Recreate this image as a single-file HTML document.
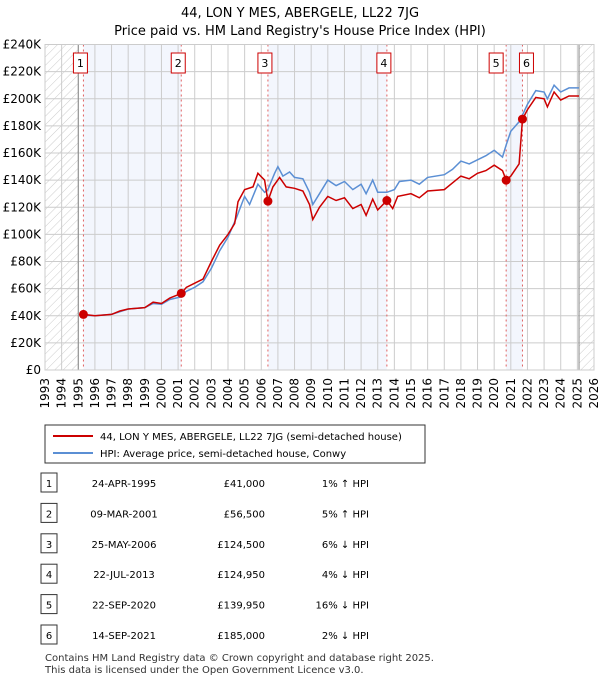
<!DOCTYPE html>
<html><head><meta charset="utf-8"><style>
body{margin:0;background:#fff;font-family:"Liberation Sans","DejaVu Sans",sans-serif;}
svg text{font-family:"DejaVu Sans","Liberation Sans",sans-serif;}
</style></head><body>
<svg width="600" height="680" viewBox="0 0 600 680" xmlns="http://www.w3.org/2000/svg">
<defs><pattern id="hatch" width="6" height="6" patternUnits="userSpaceOnUse" patternTransform="rotate(45)"><line x1="0" y1="0" x2="0" y2="6" stroke="#ccc" stroke-width="1"/></pattern></defs>
<text x="300" y="17" text-anchor="middle" font-size="13">44, LON Y MES, ABERGELE, LL22 7JG</text>
<text x="300" y="35" text-anchor="middle" font-size="13">Price paid vs. HM Land Registry's House Price Index (HPI)</text>
<g id="plot"></g>
<g id="legend">
<rect x="45" y="425" width="380" height="38" fill="#fff" stroke="#333"/>
<line x1="53" y1="436" x2="93" y2="436" stroke="#cc0000" stroke-width="2"/>
<text x="100" y="440" font-size="10">44, LON Y MES, ABERGELE, LL22 7JG (semi-detached house)</text>
<line x1="53" y1="453" x2="93" y2="453" stroke="#5b8fd4" stroke-width="2"/>
<text x="100" y="457" font-size="10">HPI: Average price, semi-detached house, Conwy</text>
</g>
<g id="table"></g>
<text x="45" y="661" font-size="10" fill="#333">Contains HM Land Registry data © Crown copyright and database right 2025.</text>
<text x="45" y="673" font-size="10" fill="#333">This data is licensed under the Open Government Licence v3.0.</text>
</svg>
<script>
const yTicks=[0,20,40,60,80,100,120,140,160,180,200,220,240];
const years=[1993,1994,1995,1996,1997,1998,1999,2000,2001,2002,2003,2004,2005,2006,2007,2008,2009,2010,2011,2012,2013,2014,2015,2016,2017,2018,2019,2020,2021,2022,2023,2024,2025,2026];
const saleT=[1995.31,2001.19,2006.4,2013.55,2020.72,2021.7];
const saleP=[41,56.5,124.5,124.95,139.95,185];
const saleDate=["24-APR-1995","09-MAR-2001","25-MAY-2006","22-JUL-2013","22-SEP-2020","14-SEP-2021"];
const salePrice=["£41,000","£56,500","£124,500","£124,950","£139,950","£185,000"];
const saleHpi=["1% ↑ HPI","5% ↑ HPI","6% ↓ HPI","4% ↓ HPI","16% ↓ HPI","2% ↓ HPI"];
const redT=[1995.31,1996,1997,1997.5,1998,1999,1999.5,2000,2000.5,2001.19,2001.5,2002,2002.5,2003,2003.5,2004,2004.4,2004.6,2005,2005.5,2005.8,2006.2,2006.4,2006.7,2007.1,2007.5,2008,2008.5,2008.9,2009.1,2009.5,2010,2010.5,2011,2011.5,2012,2012.3,2012.7,2013,2013.55,2013.9,2014.2,2015,2015.5,2016,2017,2017.5,2018,2018.5,2019,2019.5,2020,2020.5,2020.72,2021,2021.5,2021.7,2022,2022.5,2023,2023.2,2023.6,2024,2024.5,2025.1];
const redV=[41,40,41,43.5,45,46,50,49,53,56.5,61,64,67,80,92,100,108,124,133,135,145,140,124.5,135,142,135,134,132,122,111,120,128,125,127,119,122,114,126,118,124.95,119,128,130,127,132,133,138,143,141,145,147,151,147,139.95,143,152,185,192,201,200,194,205,199,202,202];
const hpiT=[1995.31,1996,1997,1998,1999,1999.5,2000,2000.5,2001.19,2001.5,2002,2002.5,2003,2003.5,2004,2004.5,2005,2005.3,2005.8,2006.2,2006.4,2006.8,2007,2007.3,2007.7,2008,2008.5,2008.9,2009.1,2009.5,2010,2010.5,2011,2011.5,2012,2012.3,2012.7,2013,2013.55,2014,2014.3,2015,2015.5,2016,2017,2017.5,2018,2018.5,2019,2019.5,2020,2020.5,2020.72,2021,2021.5,2021.7,2022,2022.5,2023,2023.2,2023.6,2024,2024.5,2025.1];
const hpiV=[40.5,40,41,45,46,49,48.5,52,54,58,61,65,75,88,98,112,128,122,137,131,133,145,150,143,146,142,141,131,122,130,140,136,139,133,137,130,140,131,131,133,139,140,137,142,144,148,154,152,155,158,162,157,166,176,183,188,196,206,205,200,210,205,208,208];
const X0=45,X1=594,Y0=370,Y1=44.5;
const x=t=>X0+(t-1993)/(2026-1993)*(X1-X0);
const y=v=>Y0-v/240*(Y0-Y1);
const NS="http://www.w3.org/2000/svg";
function mk(tag,at,parent){const e=document.createElementNS(NS,tag);for(const k in at)e.setAttribute(k,at[k]);parent.appendChild(e);return e;}
const g=document.getElementById('plot');
for(let i=0;i<saleT.length;i+=2){const a=saleT[i],b=saleT[i+1];
 const r=mk('rect',{x:x(a),y:Y1,width:x(b)-x(a),height:Y0-Y1,fill:'#f3f6fd'},g);
 
 }
const h1=mk('rect',{x:X0,y:Y1,width:x(1995)-X0,height:Y0-Y1,fill:'url(#hatch)'},g);


const h2=mk('rect',{x:x(2025.1),y:Y1,width:X1-x(2025.1),height:Y0-Y1,fill:'url(#hatch)'},g);


years.forEach(yr=>{mk('line',{x1:x(yr),x2:x(yr),y1:Y1,y2:Y0,stroke:'#ccc','stroke-width':1},g);
 const t=mk('text',{x:0,y:0,'font-size':12,'text-anchor':'end',transform:`translate(${x(yr)+4},${Y0+8}) rotate(-90)`},g);t.textContent=yr;
 
 });
yTicks.forEach(v=>{mk('line',{x1:X0,x2:X1,y1:y(v),y2:y(v),stroke:'#ccc','stroke-width':1},g);
 const t=mk('text',{x:X0-4,y:y(v)+4,'font-size':12,'text-anchor':'end'},g);t.textContent=v===0?'£0':'£'+v+'K';
 
 });
mk('line',{x1:x(1995),x2:x(1995),y1:Y1,y2:Y0,stroke:'#888'},g);
mk('line',{x1:x(2025.1),x2:x(2025.1),y1:Y1,y2:Y0,stroke:'#888'},g);
saleT.forEach(t=>mk('line',{x1:x(t),x2:x(t),y1:Y1,y2:Y0,stroke:'#e06060','stroke-dasharray':'2,3','stroke-width':1},g));
const pts=(T,V)=>T.map((t,i)=>x(t).toFixed(1)+','+y(V[i]).toFixed(1)).join(' ');
const hl=mk('polyline',{points:pts(hpiT,hpiV),fill:'none',stroke:'#5b8fd4','stroke-width':1.5},g);


const rl=mk('polyline',{points:pts(redT,redV),fill:'none',stroke:'#cc0000','stroke-width':1.5},g);


saleT.forEach((t,i)=>{const c=mk('circle',{cx:x(t),cy:y(saleP[i]),r:4.5,fill:'#cc0000'},g);
 
 
 mk('rect',{x:x(t)-(i==4?17:i==5?3:10),y:53,width:14,height:20,fill:'#fff',stroke:'#cc0000'},g);
 const tx=mk('text',{x:x(t)-(i==4?10:i==5?-4:3),y:67,'font-size':11,'text-anchor':'middle'},g);tx.textContent=i+1;
 
 });
mk('rect',{x:X0,y:Y1,width:X1-X0,height:Y0-Y1,fill:'none',stroke:'#ccc'},g);
const tb=document.getElementById('table');
saleDate.forEach((d,i)=>{const yy=483+i*30.4;
 mk('rect',{x:41,y:yy-10,width:16,height:19,fill:'#fff',stroke:'#333'},tb);
 const n=mk('text',{x:49,y:yy+4,'font-size':10,'text-anchor':'middle'},tb);n.textContent=i+1;
 const a=mk('text',{x:124,y:yy+4,'font-size':10,'text-anchor':'middle'},tb);a.textContent=d;
 
 
 const b=mk('text',{x:265,y:yy+4,'font-size':10,'text-anchor':'end'},tb);b.textContent=salePrice[i];
 
 
 const c=mk('text',{x:369,y:yy+4,'font-size':10,'text-anchor':'end'},tb);c.textContent=saleHpi[i];
 
 });
</script>
</body></html>
